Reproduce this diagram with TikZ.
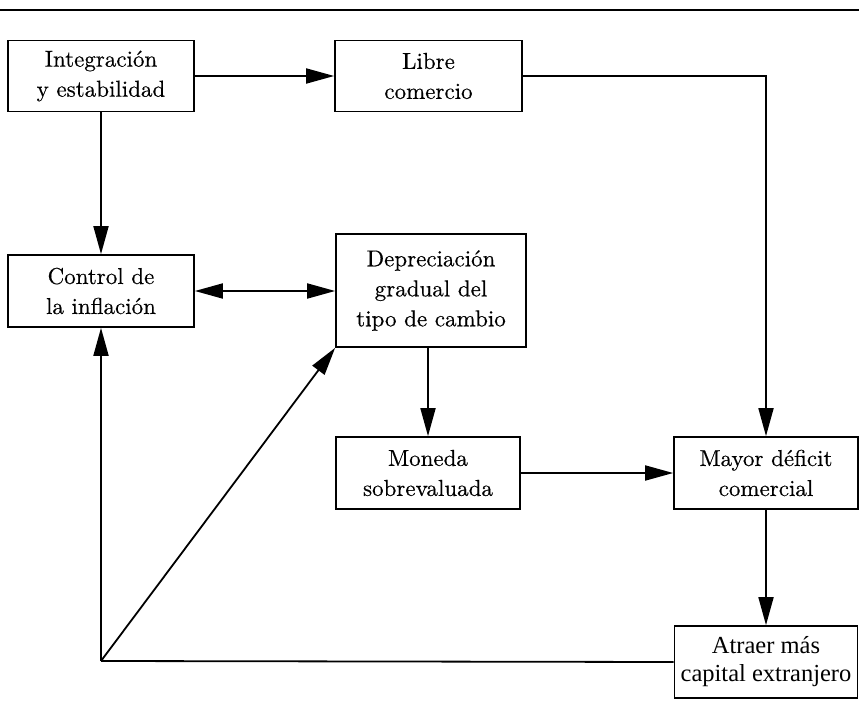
\documentclass[tikz,border=0pt]{standalone}
\usepackage{fontspec}
\newfontfamily\timesfont{Liberation Serif}
\newfontfamily\boxfont[FakeBold=0.4]{lmroman10-regular.otf}
\usetikzlibrary{arrows.meta,calc}
\tikzset{
  box/.style={draw, line width=1.7pt, inner sep=0pt, align=center,
    font=\boxfont\fontsize{23}{30}\selectfont},
  arr/.style={line width=1.8pt, -{Triangle[length=28pt,width=15pt]}},
  darr/.style={line width=1.8pt, {Triangle[length=28pt,width=15pt]}-{Triangle[length=28pt,width=15pt]}},
  ln/.style={line width=1.8pt}
}
\begin{document}
\begin{tikzpicture}[x=1pt,y=-1pt]
\useasboundingbox (0,0) rectangle (859,711);
\draw[line width=2pt] (0,10) -- (859,10);
\node[box, minimum width=186pt, minimum height=71pt] (int) at (101,76) {Integración\\y estabilidad};
\node[box, minimum width=187pt, minimum height=71pt] (lib) at (428.5,76) {Libre\\comercio};
\node[box, minimum width=186pt, minimum height=72pt] (ctl) at (101,291) {Control de\\la inflación};
\node[box, minimum width=190pt, minimum height=113pt] (dep) at (431,290.5) {Depreciación\\gradual del\\tipo de cambio};
\node[box, minimum width=184pt, minimum height=72pt] (mon) at (428,473) {Moneda\\sobrevaluada};
\node[box, minimum width=184pt, minimum height=72pt] (may) at (766,473) {Mayor déficit\\comercial};
\node[box, minimum width=183pt, minimum height=72pt, font=\timesfont\fontsize{24.5}{28}\selectfont] (atr) at (766,662) {Atraer más\\capital extranjero};
\coordinate (bl) at (101,661);
\draw[arr] (int.east) -- (lib.west);
\draw[arr] (int.south) -- (ctl.north);
\draw[arr] (lib.east) -| (may.north);
\draw[darr] (ctl.east) -- (ctl.east -| dep.west);
\draw[arr] (dep.south -| mon.north) -- (mon.north);
\draw[arr] (mon.east) -- (may.west |- mon.east);
\draw[arr] (may.south) -- (atr.north);
\draw[ln] (atr.west) -- (bl);
\draw[arr] (bl) -- (ctl.south);
\draw[arr] (bl) -- (dep.south west);
\end{tikzpicture}
\end{document}
